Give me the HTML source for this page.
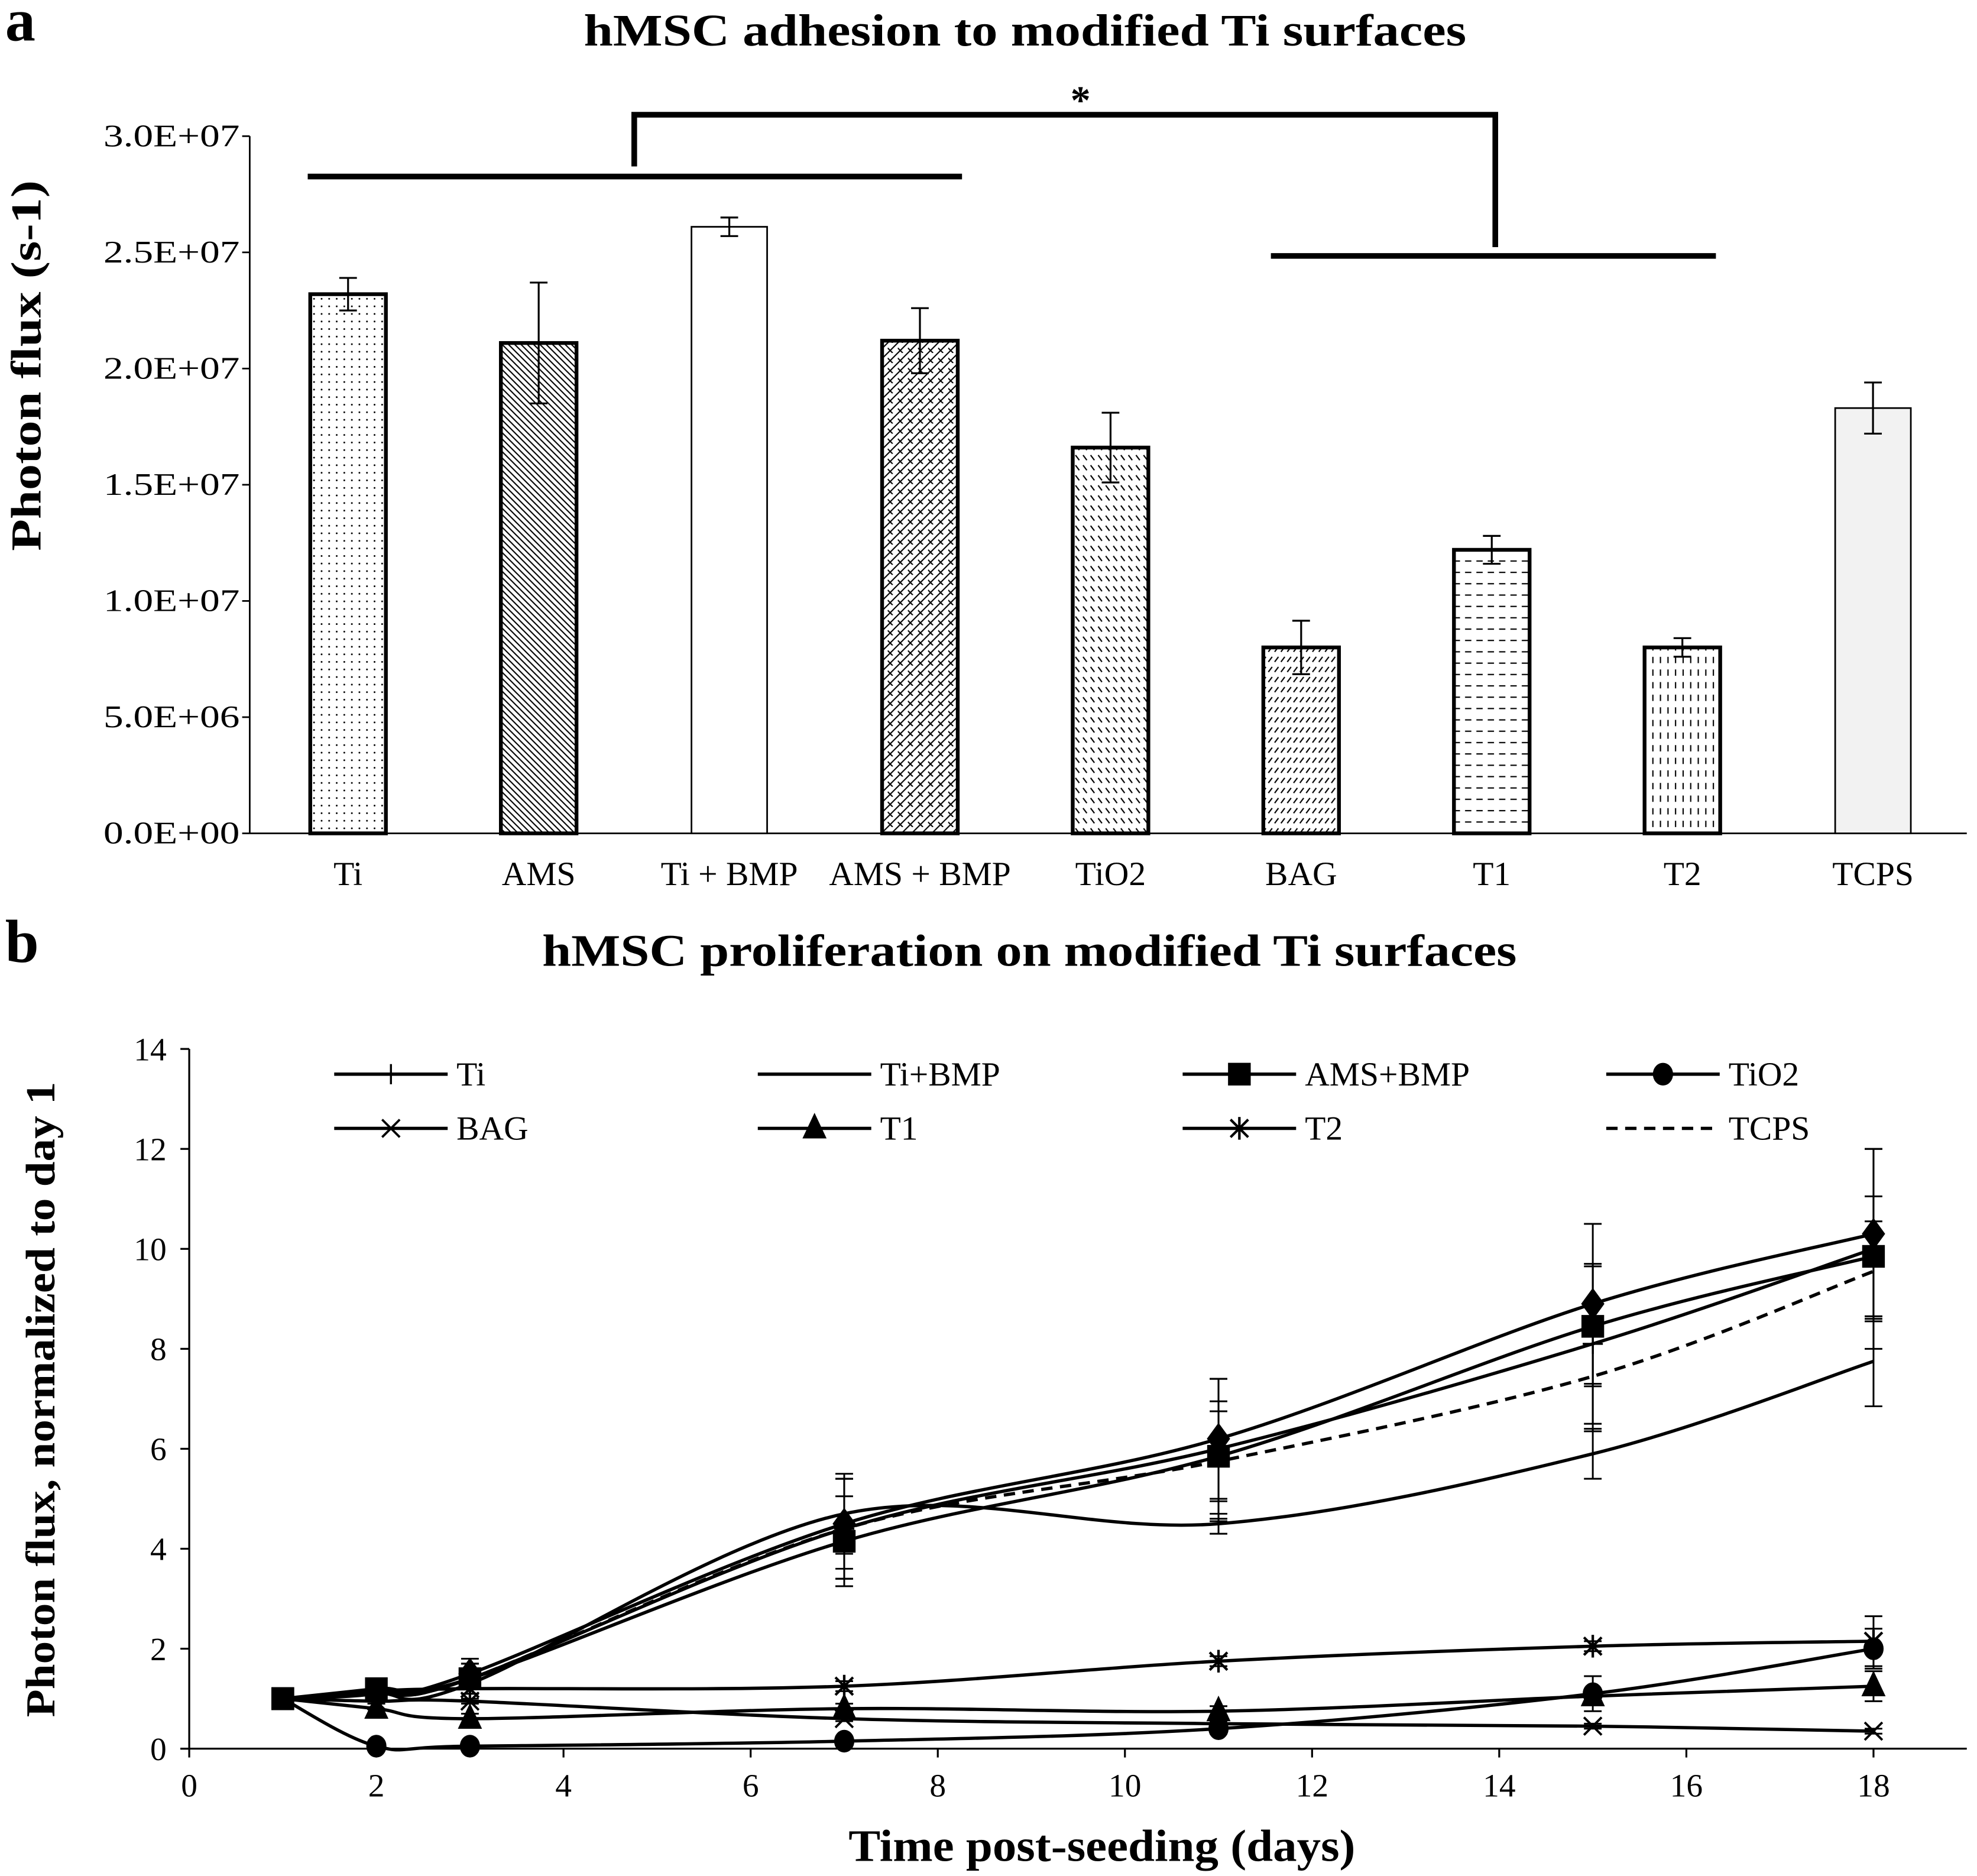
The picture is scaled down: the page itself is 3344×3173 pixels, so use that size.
<!DOCTYPE html>
<html><head><meta charset="utf-8"><style>
html,body{margin:0;padding:0;background:#fff}
svg{display:block}
text{font-family:"Liberation Serif",serif;fill:#000}
</style></head><body>
<svg id="s" width="3344" height="3173" viewBox="0 0 1568 1488" xmlns="http://www.w3.org/2000/svg">
<defs>
<pattern id="pDots" width="6" height="6" patternUnits="userSpaceOnUse"><rect width="6" height="6" fill="#fff"/><circle cx="3" cy="3" r="0.7" fill="#000"/></pattern>
<pattern id="pDiagDense" width="5" height="5" patternUnits="userSpaceOnUse"><rect width="5" height="5" fill="#fff"/><path d="M0,0L5,5M-1,4L1,6M4,-1L6,1" stroke="#000" stroke-width="1"/></pattern>
<pattern id="pCross" width="8" height="8" patternUnits="userSpaceOnUse"><rect width="8" height="8" fill="#fff"/><path d="M0,8L8,0M-1,1L1,-1M7,9L9,7M0,4L4,8" stroke="#000" stroke-width="1"/></pattern>
<pattern id="pBackDash" width="6" height="8" patternUnits="userSpaceOnUse"><rect width="6" height="8" fill="#fff"/><path d="M1,1L4,5" stroke="#000" stroke-width="1"/></pattern>
<pattern id="pFwdDash" width="5" height="8" patternUnits="userSpaceOnUse"><rect width="5" height="8" fill="#fff"/><path d="M1,5L4,1" stroke="#000" stroke-width="1"/></pattern>
<pattern id="pHDash" width="9" height="9" patternUnits="userSpaceOnUse"><rect width="9" height="9" fill="#fff"/><path d="M1,4H6" stroke="#000" stroke-width="1"/></pattern>
<pattern id="pVDash" width="6" height="10" patternUnits="userSpaceOnUse"><rect width="6" height="10" fill="#fff"/><path d="M3,1V6" stroke="#000" stroke-width="1"/></pattern>
</defs>
<g id="ga"></g>
<g id="gb"></g>
</svg>
<script>
// ---------- Panel a data ----------
const barCategories = ["Ti","AMS","Ti + BMP","AMS + BMP","TiO2","BAG","T1","T2","TCPS"];
const barValues = [2.32e7,2.11e7,2.61e7,2.12e7,1.66e7,0.80e7,1.22e7,0.80e7,1.83e7];
const barErrors = [0.07e7,0.26e7,0.04e7,0.14e7,0.15e7,0.115e7,0.06e7,0.04e7,0.11e7];
const barTicks = ["0.0E+00","5.0E+06","1.0E+07","1.5E+07","2.0E+07","2.5E+07","3.0E+07"];
const barTickValues = [0,5e6,1e7,1.5e7,2e7,2.5e7,3e7];
// ---------- Panel b data ----------
const days = [1,2,3,7,11,15,18];
const sTi      = [1,1.10,1.40,4.40,6.00,8.10,10.00];
const sTiBMP   = [1,1.10,1.30,4.70,4.50,5.90,7.75];
const sAMSBMP  = [1,1.20,1.40,4.15,5.85,8.45,9.85];
const sTiO2    = [1,0.05,0.05,0.15,0.40,1.10,2.00];
const sBAG     = [1,0.95,0.95,0.60,0.50,0.45,0.35];
const sT1      = [1,0.80,0.60,0.80,0.75,1.05,1.25];
const sT2      = [1,1.15,1.20,1.25,1.75,2.05,2.15];
const sTCPS    = [1,1.10,1.40,4.40,5.75,7.45,9.55];
const sAMS     = [1,1.10,1.50,4.50,6.20,8.90,10.30];
const errTi    = [0,0.1,0.3,1.0,1.4,1.6,2.0];
const errTiBMP = [0,0.1,0.2,0.8,0.2,0.5,0.9];
const errAMSBMP= [0,0.1,0.3,0.9,0.9,1.2,1.2];
const errTiO2  = [0,0.05,0.05,0.05,0.1,0.35,0.4];
const errBAG   = [0,0.05,0.05,0.05,0.05,0.05,0.05];
const errT1    = [0,0.1,0.1,0.1,0.1,0.1,0.3];
const errT2    = [0,0.1,0.1,0.1,0.1,0.1,0.5];
const errTCPS  = [0,0.1,0.3,1.0,1.2,1.1,1.0];
const errAMS   = [0,0.1,0.3,0.9,1.2,1.6,1.7];
const lineTickValues = [0,2,4,6,8,10,12,14];
const dayTickValues = [0,2,4,6,8,10,12,14,16,18];

const NS="http://www.w3.org/2000/svg";
function mk(parent,tag,attrs,txt){const e=document.createElementNS(NS,tag);for(const k in attrs)e.setAttribute(k,attrs[k]);if(txt!==undefined)e.textContent=txt;parent.appendChild(e);return e;}

// ===== Panel a =====
const ga=document.getElementById('ga');
const ay=v=>661-(v/3e7)*(661-108);
const ax=i=>276+i*151.2;
let t;
t=mk(ga,'text',{x:4,y:32,'font-size':48,'font-weight':'bold'},'a');

t=mk(ga,'text',{x:463,y:36,'font-size':36,'font-weight':'bold',textLength:700,lengthAdjust:'spacingAndGlyphs'},'hMSC adhesion to modified Ti surfaces');

t=mk(ga,'text',{x:0,y:0,'font-size':34,'font-weight':'bold',textLength:294,lengthAdjust:'spacingAndGlyphs',transform:'translate(32,437) rotate(-90)'},'Photon flux (s-1)');

let l=mk(ga,'line',{x1:198,y1:108,x2:198,y2:661,stroke:'#000','stroke-width':1.3});

l=mk(ga,'line',{x1:198,y1:661,x2:1560,y2:661,stroke:'#000','stroke-width':1.3});

barTickValues.forEach((v,i)=>{
  mk(ga,'line',{x1:192,y1:ay(v),x2:198,y2:ay(v),stroke:'#000','stroke-width':1.3});
  const tt=mk(ga,'text',{x:82,y:ay(v)+8,'font-size':25,textLength:108,lengthAdjust:'spacingAndGlyphs'},barTicks[i]);
  
});
const fills=['url(#pDots)','url(#pDiagDense)','#fff','url(#pCross)','url(#pBackDash)','url(#pFwdDash)','url(#pHDash)','url(#pVDash)','#f2f2f2'];
const sw=[3,3,1.3,3,3,3,3,3,1.3];
barCategories.forEach((c,i)=>{
  const cx=ax(i),top=ay(barValues[i]);
  const r=mk(ga,'rect',{x:cx-30,y:top,width:60,height:661-top,fill:fills[i],stroke:'#000','stroke-width':sw[i]});
  
  const e1=ay(barValues[i]+barErrors[i]),e2=ay(barValues[i]-barErrors[i]);
  const eb=mk(ga,'path',{d:`M${cx},${e1}V${e2}M${cx-7},${e1}H${cx+7}M${cx-7},${e2}H${cx+7}`,stroke:'#000','stroke-width':1.5,fill:'none'});
  
  const tl=mk(ga,'text',{x:cx,y:702,'font-size':27,'text-anchor':'middle'},c);
  
});
const br=mk(ga,'path',{d:'M244,140H763M503,132V91H1186V196M1008,203H1361',stroke:'#000','stroke-width':4.5,fill:'none'});

t=mk(ga,'text',{x:857,y:90,'font-size':32,'font-weight':'bold','text-anchor':'middle'},'*');


// ===== Panel b =====
const gb=document.getElementById('gb');
const bx=d=>150+d*(1486-150)/18;
const by=v=>1387-v*(1387-832)/14;
t=mk(gb,'text',{x:4,y:763,'font-size':48,'font-weight':'bold'},'b');

t=mk(gb,'text',{x:430,y:766,'font-size':36,'font-weight':'bold',textLength:773,lengthAdjust:'spacingAndGlyphs'},'hMSC proliferation on modified Ti surfaces');

t=mk(gb,'text',{x:0,y:0,'font-size':33,'font-weight':'bold',textLength:504,lengthAdjust:'spacingAndGlyphs',transform:'translate(43,1362) rotate(-90)'},'Photon flux, normalized to day 1');

t=mk(gb,'text',{x:673,y:1476,'font-size':36,'font-weight':'bold',textLength:402,lengthAdjust:'spacingAndGlyphs'},'Time post-seeding (days)');

l=mk(gb,'line',{x1:150,y1:832,x2:150,y2:1387,stroke:'#000','stroke-width':1.5});

l=mk(gb,'line',{x1:143,y1:1387,x2:1560,y2:1387,stroke:'#000','stroke-width':1.5});

lineTickValues.forEach(v=>{
  mk(gb,'line',{x1:143,y1:by(v),x2:150,y2:by(v),stroke:'#000','stroke-width':1.5});
  const tt=mk(gb,'text',{x:132,y:by(v)+9,'font-size':26,'text-anchor':'end'},String(v));
  
});
dayTickValues.forEach(d=>{
  mk(gb,'line',{x1:bx(d),y1:1387,x2:bx(d),y2:1394,stroke:'#000','stroke-width':1.5});
  const tt=mk(gb,'text',{x:bx(d),y:1425,'font-size':26,'text-anchor':'middle'},String(d));
  
});
function smooth(vals){
  const p=days.map((d,i)=>[bx(d),by(vals[i])]);
  let d=`M${p[0][0]},${p[0][1]}`;
  for(let i=0;i<p.length-1;i++){
    const p0=p[Math.max(0,i-1)],p1=p[i],p2=p[i+1],p3=p[Math.min(p.length-1,i+2)];
    const c1=[p1[0]+(p2[0]-p0[0])/6,p1[1]+(p2[1]-p0[1])/6],c2=[p2[0]-(p3[0]-p1[0])/6,p2[1]-(p3[1]-p1[1])/6];
    d+=`C${c1[0]},${c1[1]} ${c2[0]},${c2[1]} ${p2[0]},${p2[1]}`;
  }
  return d;
}
function marker(g,type,x,y){
  const a={stroke:'#000','stroke-width':2,fill:'#000'};
  if(type==='plus')return mk(g,'path',{d:`M${x-8},${y}H${x+8}M${x},${y-8}V${y+8}`,stroke:'#000','stroke-width':1.6});
  if(type==='square')return mk(g,'rect',Object.assign({x:x-8,y:y-8,width:16,height:16},a));
  if(type==='circle')return mk(g,'ellipse',Object.assign({cx:x,cy:y,rx:7,ry:8},a));
  if(type==='x')return mk(g,'path',{d:`M${x-7},${y-7}L${x+7},${y+7}M${x-7},${y+7}L${x+7},${y-7}`,stroke:'#000','stroke-width':1.8});
  if(type==='tri')return mk(g,'path',Object.assign({d:`M${x},${y-10}L${x+8},${y+7}L${x-8},${y+7}Z`},a));
  if(type==='star')return mk(g,'path',{d:`M${x-7},${y-7}L${x+7},${y+7}M${x-7},${y+7}L${x+7},${y-7}M${x},${y-9}V${y+9}`,stroke:'#000','stroke-width':2});
  if(type==='diamond')return mk(g,'path',Object.assign({d:`M${x},${y-11}L${x+8},${y}L${x},${y+11}L${x-8},${y}Z`},a));
  return null;
}
const seriesList=[
  ['ti',sTi,errTi,'plus',false],['ti-bmp',sTiBMP,errTiBMP,null,false],['ams-bmp',sAMSBMP,errAMSBMP,'square',false],
  ['tio2',sTiO2,errTiO2,'circle',false],['bag',sBAG,errBAG,'x',false],['t1',sT1,errT1,'tri',false],
  ['t2',sT2,errT2,'star',false],['tcps',sTCPS,errTCPS,null,true],['ams',sAMS,errAMS,'diamond',false]];
seriesList.forEach(s=>{
  const g=mk(gb,'g',{});
  
  const p=mk(g,'path',{d:smooth(s[1]),fill:'none',stroke:'#000','stroke-width':2.6,'stroke-dasharray':s[4]?'9,6':'none'});
  
  days.forEach((d,i)=>{
    if(s[2][i]>0){const x=bx(d),y1=by(s[1][i]+s[2][i]),y2=by(s[1][i]-s[2][i]);
      const e=mk(g,'path',{d:`M${x},${y1}V${y2}M${x-7},${y1}H${x+7}M${x-7},${y2}H${x+7}`,stroke:'#000','stroke-width':1.4,fill:'none'});
      }
    const m=marker(g,i===0?'square':s[3],bx(d),by(s[1][i]));
    if(m){}
  });
});
// legend
const legendNames=['Ti','Ti+BMP','AMS+BMP','TiO2','BAG','T1','T2','TCPS'];
const legendMarkers=['plus',null,'square','circle','x','tri','star',null];
const legendCols=[265,601,938,1274];
legendNames.forEach((n,i)=>{
  const x=legendCols[i%4],y=i<4?852:895;
  const g=mk(gb,'g',{});
  
  
  mk(g,'line',{x1:x,y1:y,x2:x+90,y2:y,stroke:'#000','stroke-width':2.6,'stroke-dasharray':n==='TCPS'?'9,6':'none'});
  if(legendMarkers[i])marker(g,legendMarkers[i],x+45,y);
  mk(g,'text',{x:x+97,y:y+9,'font-size':27},n);
});
</script>
</body></html>
